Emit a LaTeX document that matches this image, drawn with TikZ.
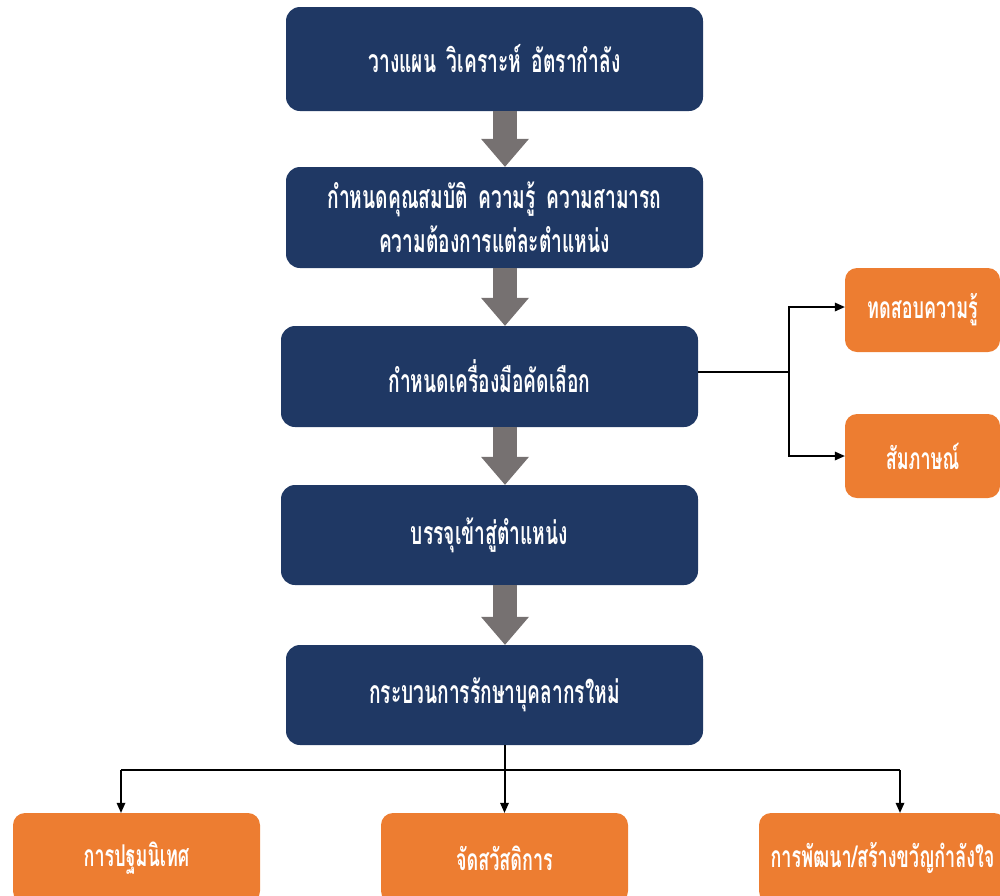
\documentclass[tikz,border=0pt]{standalone}
\usepackage{fontspec}
\newfontfamily\thaifont[Script=Thai,FakeStretch=0.6]{Loma}
\usetikzlibrary{arrows.meta,calc}
\definecolor{navy}{HTML}{1F3864}
\definecolor{tangerine}{HTML}{ED7D31}
\definecolor{slate}{HTML}{767171}
\begin{document}
\begin{tikzpicture}[x=1pt,y=-1pt,
  stage/.style={fill=navy, rounded corners=14pt, minimum width=417pt, text width=400pt,
    align=center, text=white, font=\thaifont\bfseries\fontsize{32}{44}\selectfont, inner sep=0pt},
  leaf/.style={fill=tangerine, rounded corners=12pt, text=white, align=center,
    font=\thaifont\bfseries\fontsize{30}{36}\selectfont, inner sep=0pt},
  flow/.style={slate, line width=24pt, -{Triangle[width=48pt 0 0, length=28pt 0 0, line width=0pt]}},
  link/.style={black, line width=2pt},
  linkarrow/.style={link, -{Triangle[width=9pt 0 0, length=10pt 0 0, line width=0pt]}}]
\useasboundingbox (0,0) rectangle (1000,895);
\clip (0,0) rectangle (1000,895);

% main sequence
\node[stage, minimum height=104pt] (b1) at (494.5,59) {วางแผน วิเคราะห์ อัตรากำลัง};
\node[stage, minimum height=101pt] (b2) at (494.5,217.5) {กำหนดคุณสมบัติ ความรู้ ความสามารถ\\ความต้องการแต่ละตำแหน่ง};
\node[stage, minimum height=101pt] (b3) at (489.5,376.5) {กำหนดเครื่องมือคัดเลือก};
\node[stage, minimum height=100pt] (b4) at (489.5,535) {บรรจุเข้าสู่ตำแหน่ง};
\node[stage, minimum height=100pt] (b5) at (494.5,695) {กระบวนการรักษาบุคลากรใหม่};

% selection tools
\node[leaf, minimum width=155pt, minimum height=84pt] (t1) at (922.5,310) {ทดสอบความรู้};
\node[leaf, minimum width=155pt, minimum height=84pt] (t2) at (922.5,456) {สัมภาษณ์};

% retention activities
\node[leaf, minimum width=247pt, minimum height=90pt] (r1) at (136.5,858) {การปฐมนิเทศ};
\node[leaf, minimum width=247pt, minimum height=90pt] (r2) at (504.5,858) {จัดสวัสดิการ};
\node[leaf, minimum width=247pt, minimum height=90pt] (r3) at (882.5,858) {การพัฒนา/สร้างขวัญกำลังใจ};

% flow arrows
\draw[flow] (b1.south -| 505,0) -- (b2.north -| 505,0);
\draw[flow] (b2.south -| 505,0) -- (b3.north -| 505,0);
\draw[flow] (b3.south -| 505,0) -- (b4.north -| 505,0);
\draw[flow] (b4.south -| 505,0) -- (b5.north -| 505,0);

% branch to selection tools
\coordinate (fork) at (789,372);
\draw[link] ([yshift=4.5pt]b3.east) -- (fork);
\draw[linkarrow] (fork) |- ([yshift=3pt]t1.west);
\draw[linkarrow] (fork) |- (t2.west);

% branch to retention activities
\coordinate (hl) at (121,770);
\coordinate (hr) at (900,770);
\draw[link] (hl) -- (hr);
\draw[linkarrow] (hl) -- (hl |- r1.north);
\draw[linkarrow] (b5.south -| r2.north) -- (r2.north);
\draw[linkarrow] (hr) -- (hr |- r3.north);
\end{tikzpicture}
\end{document}
